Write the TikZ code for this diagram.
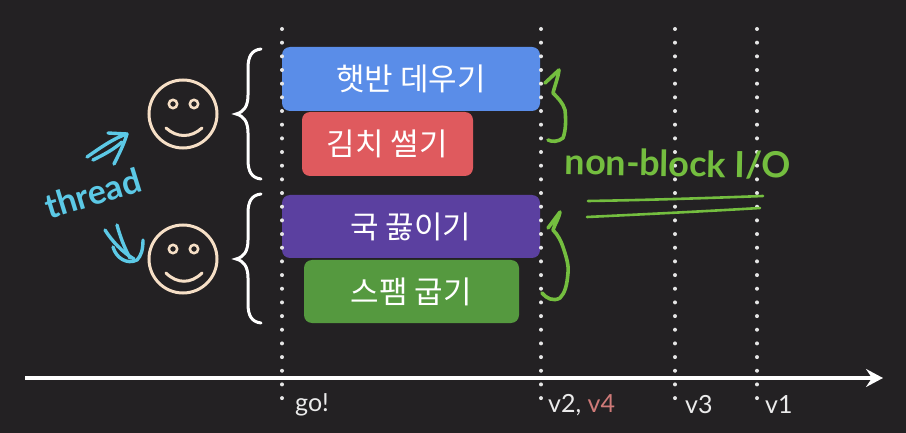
\documentclass[tikz,border=0pt]{standalone}
\usepackage{fontspec}
\setmainfont{Lato}
\newfontfamily\krfont{Noto Sans CJK KR}
\usetikzlibrary{arrows.meta}
\definecolor{bgdark}{HTML}{232123}
\definecolor{boxblue}{HTML}{5A8DE8}
\definecolor{boxred}{HTML}{DF5A5E}
\definecolor{boxpurple}{HTML}{5B40A0}
\definecolor{boxgreen}{HTML}{55993F}
\definecolor{facepeach}{HTML}{F6DFC6}
\definecolor{penblue}{HTML}{5CC9E6}
\definecolor{pengreen}{HTML}{74BE3F}
\definecolor{labelred}{HTML}{CF7A78}

\begin{document}
\begin{tikzpicture}[
    x=1pt, y=-1pt,
    taskbox/.style={rounded corners=8pt, inner sep=0pt, text=white, font=\krfont\fontsize{31}{31}\selectfont},
    facenode/.style={draw=facepeach, line width=3pt, circle, minimum size=68pt, inner sep=0pt},
    faceline/.style={draw=facepeach, line width=3pt, line cap=round},
    bracket/.style={draw=white, line width=3pt, line cap=round},
    timeline/.style={draw=white, line width=3.5pt, -{Stealth[length=17pt,width=18pt,inset=6pt]}},
    timelabel/.style={text=white!92!black, font=\fontsize{25}{25}\selectfont, inner sep=0pt},
    penblueline/.style={draw=penblue, line width=3.4pt, line cap=round, line join=round},
    pengreenline/.style={draw=pengreen, line width=3.6pt, line cap=round, line join=round}
]
\fill[bgdark] (0,0) rectangle (906,433);
\useasboundingbox (0,0) rectangle (906,433);

% tasks
\node[taskbox, fill=boxblue, minimum width=258pt, minimum height=64pt] (rice) at (411,79) {햇반 데우기};
\node[taskbox, fill=boxred, minimum width=171pt, minimum height=64pt] (kimchi) at (387.5,144) {김치 썰기};
\node[taskbox, fill=boxpurple, minimum width=258pt, minimum height=63pt] (soup) at (411,226.5) {국 끓이기};
\node[taskbox, fill=boxgreen, minimum width=215pt, minimum height=63pt] (spam) at (411.5,291.5) {스팸 굽기};

% dotted guides
\foreach \x in {282,541,675,757}
    \foreach \k in {0,...,27}
        \fill[white!90!black] (\x,29+13.67*\k) circle (2pt);

% time axis
\coordinate (axisstart) at (25,378);
\coordinate (axisend) at (883,378);
\draw[timeline] (axisstart) -- (axisend);
\node[timelabel, anchor=west] (go) at (295,405) {go!};
\node[timelabel, anchor=west] (vtwo) at (548,405) {v2, \textcolor{labelred}{v4}};
\node[timelabel, anchor=west] (vthree) at (685,405) {v3};
\node[timelabel, anchor=west] (vone) at (765,405) {v1};

% faces
\foreach \name/\yc in {facetop/114,facebottom/259} {
    \node[facenode] (\name) at (183,\yc) {};
    \draw[faceline, line width=2.5pt] (173,\yc-10) circle (4.2pt);
    \draw[faceline, line width=2.5pt] (194,\yc-10) circle (4.2pt);
}
\draw[faceline] (166,128) .. controls (177,138) and (191,138) .. (202,128);
\draw[faceline] (166,273) .. controls (177,284) and (191,284) .. (202,273);

% braces
\draw[bracket] (261,49) .. controls (252,50) and (248,56) .. (248,68) -- (248,95)
    .. controls (248,106) and (244,112) .. (236,114)
    .. controls (244,116) and (248,122) .. (248,133) -- (248,160)
    .. controls (248,172) and (252,178) .. (261,179);
\draw[bracket] (261,194) .. controls (252,195) and (248,201) .. (248,213) -- (248,240)
    .. controls (248,251) and (244,257) .. (236,259)
    .. controls (244,261) and (248,267) .. (248,278) -- (248,304)
    .. controls (248,316) and (252,322) .. (261,323);

% handwriting
\node[text=penblue, rotate=17, font=\bfseries\fontsize{34}{34}\selectfont, inner sep=0pt] (thread) at (93,193) {thread};
\draw[penblueline] (87,157) .. controls (100,148) and (114,138) .. (127,134) -- (108,133);
\draw[penblueline] (127,134) .. controls (124,144) and (119,154) .. (114,164);
\draw[penblueline] (93,160) .. controls (103,155) and (113,150) .. (122,142);
\draw[penblueline] (105,230) .. controls (112,241) and (122,252) .. (134,259);
\draw[penblueline] (117,225) .. controls (120,236) and (124,247) .. (130,258);
\draw[penblueline] (143,240) .. controls (143,250) and (141,256) .. (137,260)
    .. controls (127,265) and (116,258) .. (113,247);

\node[text=pengreen, rotate=-1, font=\bfseries\fontsize{36}{36}\selectfont, inner sep=0pt] (nonblock) at (678,164) {non-block I/O};
\draw[pengreenline] (545,83) -- (559,70) .. controls (558,78) and (555,85) .. (553,93)
    .. controls (558,98) and (563,103) .. (565,110)
    .. controls (566,120) and (566,130) .. (563,138)
    .. controls (558,142) and (552,142) .. (548,140);
\draw[pengreenline] (548,228) -- (560,212) .. controls (559,218) and (555,224) .. (553,230)
    .. controls (558,235) and (561,241) .. (563,247)
    .. controls (566,256) and (569,265) .. (568,273)
    .. controls (567,285) and (565,293) .. (560,298)
    .. controls (553,302) and (546,298) .. (542,293);
\draw[pengreenline, line width=2.6pt] (588,201) .. controls (650,200) and (710,198) .. (763,196);
\draw[pengreenline, line width=2.6pt] (587,217) .. controls (650,214) and (710,211) .. (760,208);
\end{tikzpicture}
\end{document}
